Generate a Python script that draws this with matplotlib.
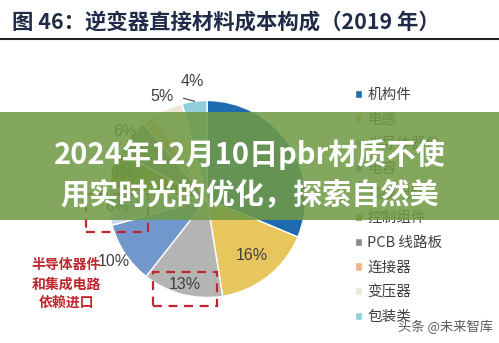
import matplotlib
matplotlib.use('Agg')
import matplotlib.pyplot as plt
import numpy as np
from matplotlib.patches import Rectangle
from matplotlib.lines import Line2D

# ---- data ----
categories = ['机构件', '电感', '半导体器件', '电容', '集成电路', '控制组件',
              'PCB 线路板', '连接器', '变压器', '包装类']
values = [31, 16, 13, 10, 6, 6, 6, 2, 5, 4]
pct_labels = ['31%', '16%', '13%', '10%', '6%', '6%', '6%', '', '5%', '4%']
title_text = '图 46：逆变器直接材料成本构成（2019 年）'
banner_lines = ['2024年12月10日pbr材质不使', '用实时光的优化，探索自然美']
note_lines = ['半导体器件', '和集成电路', '依赖进口']
watermark = '头条 @未来智库'

# ---- style ----
colors = ['#1f6bb0', '#e8c65e', '#b4b4b4', '#7297cc', '#c8d6ec', '#8f8f3c',
          '#8a8a8a', '#f4b183', '#ede6da', '#92cddc']
label_r = [0.76, 0.73, 0.90, 1.14, 0.92, 0.91, 1.08, 1.0, 1.14, 1.20]
CJK = ['Noto Sans CJK SC', 'DejaVu Sans']

W, H = 499, 343
fig = plt.figure(figsize=(W / 100, H / 100), dpi=100)
fig.patch.set_facecolor('white')

def fx(px):
    return px / W

def fy(py):
    return 1 - py / H

cx, cy, R = 207, 199, 98.5
ax = fig.add_axes([fx(cx - R), fy(cy + R), 2 * R / W, 2 * R / H])
wedges, _ = ax.pie(values, colors=colors, startangle=90, counterclock=False,
                   wedgeprops=dict(edgecolor='white', linewidth=1))
ax.set_xlim(-1, 1)
ax.set_ylim(-1, 1)
ax.set_aspect('equal')
ax.axis('off')

for w, lab, r in zip(wedges, pct_labels, label_r):
    if not lab:
        continue
    ang = np.deg2rad((w.theta1 + w.theta2) / 2)
    ax.text(r * np.cos(ang), r * np.sin(ang), lab, ha='center', va='center',
            fontsize=11.5, color='#404040', family='Liberation Sans', clip_on=False)

# leader line for the last (small) slice
w = wedges[-1]
ang = np.deg2rad((w.theta1 + w.theta2) / 2)
px, py = np.cos(ang), np.sin(ang)
ax.plot([px, px - 0.11], [py, py + 0.03], color='#404040', lw=0.8, clip_on=False)

# legend
leg = fig.legend(wedges, categories, loc='upper left',
                 bbox_to_anchor=(fx(355), fy(88)), frameon=False,
                 borderpad=0, borderaxespad=0, handlelength=0.5, handleheight=0.5,
                 handletextpad=0.35, labelspacing=0.73,
                 prop={'family': CJK, 'size': 10.5}, labelcolor='#404040')
leg.set_zorder(5)

# title and rule
fig.text(fx(12), fy(22), title_text, fontsize=15.4, weight='bold', color='#1f2b48',
         va='center', ha='left', family=CJK)
fig.add_artist(Line2D([0, 1], [fy(39), fy(39)], color='#222222', lw=1.5))

# red dashed boxes
for (x0, y0, x1, y1) in [(86, 194, 148, 232), (153, 272, 217, 306)]:
    fig.add_artist(Rectangle((fx(x0), fy(y1)), fx(x1) - fx(x0), fy(y0) - fy(y1),
                             fill=False, edgecolor='#c0262d', lw=1.6,
                             linestyle=(0, (4, 3)), zorder=6))

# red note
for txt, y in zip(note_lines, [265, 285, 303]):
    fig.text(fx(66), fy(y), txt, ha='center', va='center', fontsize=10,
             weight='bold', color='#c0262d', family=CJK)

# watermark
fig.text(fx(445), fy(327), watermark, ha='center', va='center', fontsize=9.5,
         color='#333333', alpha=0.8, family=CJK)

# banner overlay
fig.add_artist(Rectangle((0, fy(220)), 1, fy(112) - fy(220), facecolor='#6f9a45',
                         alpha=0.87, edgecolor='none', zorder=10))
for txt, y in zip(banner_lines, [155, 195]):
    fig.text(0.5, fy(y), txt, ha='center', va='center', fontsize=21, weight='bold',
             color='white', family=CJK, zorder=11)

fig.savefig('out.png', dpi=100, facecolor='white')
